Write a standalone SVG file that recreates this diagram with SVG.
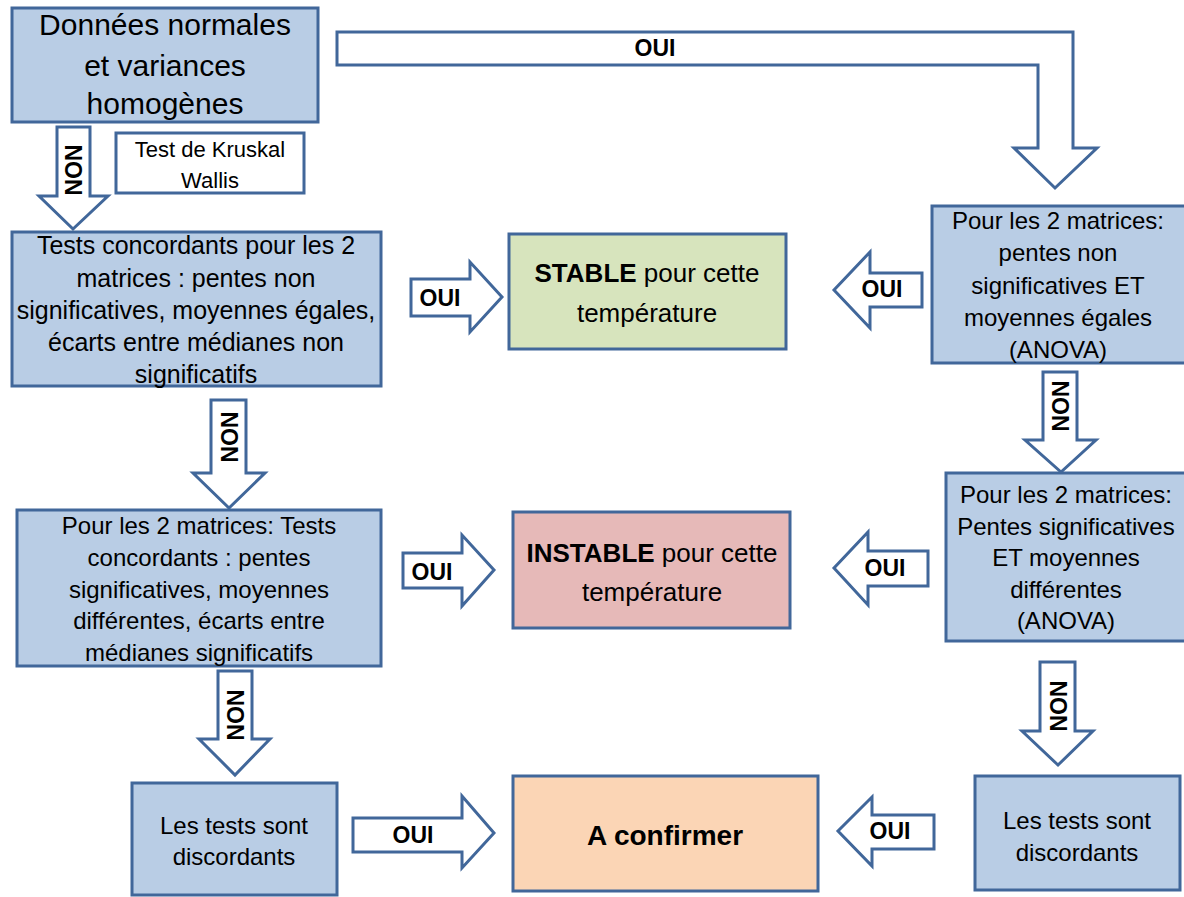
<svg xmlns="http://www.w3.org/2000/svg" width="1184" height="897" viewBox="0 0 1184 897">
<style>
.box{stroke:#41679a;stroke-width:3}
.blue{fill:#b9cde5}
.white{fill:#ffffff}
.green{fill:#d7e4bd}
.red{fill:#e6b9b8}
.orange{fill:#fbd5b5}
.arr{fill:#ffffff;stroke:#41679a;stroke-width:3;stroke-linejoin:miter}
text{font-family:"Liberation Sans",Arial,sans-serif;fill:#000;text-anchor:middle}
.t{font-size:24px}
.t2{font-size:25px}
.big{font-size:30px}
.k{font-size:22px}
.res{font-size:26px}
.conf{font-size:28px;font-weight:bold}
.lab{font-size:23px;font-weight:bold}
.b{font-weight:bold}
</style>
<rect width="1184" height="897" fill="#ffffff"/>
<g id="connectors">
  <path class="arr" d="M337,32 H1073 V148 H1097 L1055,188 L1014,148 H1038 V65 H337 Z"/>
  <text class="lab" x="655" y="56">OUI</text>
  <path class="arr" d="M57,127 H90 V196 H108 L73,229 L39,196 H57 Z"/>
  <text class="lab" transform="translate(73,170) rotate(90)" y="8">NON</text>
  <path class="arr" d="M211,400 H246 V473 H265 L229,508 L193,473 H211 Z"/>
  <text class="lab" transform="translate(229,437) rotate(90)" y="8">NON</text>
  <path class="arr" d="M218,671 H252 V739 H270 L235,775 L199,739 H218 Z"/>
  <text class="lab" transform="translate(235,715) rotate(90)" y="8">NON</text>
  <path class="arr" d="M1043,372 H1077 V440 H1096 L1061,472 L1025,440 H1043 Z"/>
  <text class="lab" transform="translate(1060,406) rotate(90)" y="8">NON</text>
  <path class="arr" d="M1040,662 H1075 V731 H1093 L1058,765 L1022,731 H1040 Z"/>
  <text class="lab" transform="translate(1058,706) rotate(90)" y="8">NON</text>
  <path class="arr" d="M411,279 H470 V262 L502,297 L470,332 V316 H411 Z"/>
  <text class="lab" x="440" y="306">OUI</text>
  <path class="arr" d="M922,273 H870 V252 L834,290 L870,328 V307 H922 Z"/>
  <text class="lab" x="882" y="297">OUI</text>
  <path class="arr" d="M403,553 H462 V535 L494,570 L462,606 V588 H403 Z"/>
  <text class="lab" x="432" y="580">OUI</text>
  <path class="arr" d="M928,551 H868 V532 L834,568 L868,605 V586 H928 Z"/>
  <text class="lab" x="885" y="576">OUI</text>
  <path class="arr" d="M353,818 H462 V796 L494,833 L462,868 V852 H353 Z"/>
  <text class="lab" x="413" y="843">OUI</text>
  <path class="arr" d="M934,815 H872 V797 L838,831 L872,866 V849 H934 Z"/>
  <text class="lab" x="890" y="839">OUI</text>
</g>
<g id="n-donnees">
  <rect class="box blue" x="12" y="8" width="306" height="114"/>
  <text class="big" x="165" y="35">Données normales</text>
  <text class="big" x="165" y="76">et variances</text>
  <text class="big" x="165" y="114">homogènes</text>
</g>
<g id="n-kruskal">
  <rect class="box white" x="116" y="133" width="188" height="60"/>
  <text class="k" x="210" y="157">Test de Kruskal</text>
  <text class="k" x="210" y="188">Wallis</text>
</g>
<g id="n-concordants">
  <rect class="box blue" x="12" y="232" width="369" height="154"/>
  <text class="t2" x="196" y="254">Tests concordants pour les 2</text>
  <text class="t2" x="196" y="287">matrices : pentes non</text>
  <text class="t2" x="196" y="319">significatives, moyennes égales,</text>
  <text class="t2" x="196" y="351">écarts entre médianes non</text>
  <text class="t2" x="196" y="383">significatifs</text>
</g>
<g id="n-stable">
  <rect class="box green" x="509" y="234" width="277" height="115"/>
  <text class="res" x="647" y="282"><tspan class="b">STABLE</tspan> pour cette</text>
  <text class="res" x="647" y="322">température</text>
</g>
<g id="n-anova1">
  <rect class="box blue" x="932" y="206" width="256" height="157"/>
  <text class="t" x="1058" y="229">Pour les 2 matrices:</text>
  <text class="t" x="1058" y="261">pentes non</text>
  <text class="t" x="1058" y="294">significatives ET</text>
  <text class="t" x="1058" y="326">moyennes égales</text>
  <text class="t" x="1058" y="358">(ANOVA)</text>
</g>
<g id="n-tests-signif">
  <rect class="box blue" x="17" y="510" width="364" height="156"/>
  <text class="t" x="199" y="534">Pour les 2 matrices: Tests</text>
  <text class="t" x="199" y="566">concordants : pentes</text>
  <text class="t" x="199" y="598">significatives, moyennes</text>
  <text class="t" x="199" y="629">différentes, écarts entre</text>
  <text class="t" x="199" y="661">médianes significatifs</text>
</g>
<g id="n-instable">
  <rect class="box red" x="513" y="512" width="277" height="116"/>
  <text class="res" x="652" y="562"><tspan class="b">INSTABLE</tspan> pour cette</text>
  <text class="res" x="652" y="601">température</text>
</g>
<g id="n-anova2">
  <rect class="box blue" x="946" y="473" width="242" height="168"/>
  <text class="t" x="1066" y="503">Pour les 2 matrices:</text>
  <text class="t" x="1066" y="535">Pentes significatives</text>
  <text class="t" x="1066" y="566">ET moyennes</text>
  <text class="t" x="1066" y="598">différentes</text>
  <text class="t" x="1066" y="629">(ANOVA)</text>
</g>
<g id="n-discord-left">
  <rect class="box blue" x="132" y="783" width="205" height="112"/>
  <text class="t" x="234" y="834">Les tests sont</text>
  <text class="t" x="234" y="865">discordants</text>
</g>
<g id="n-confirmer">
  <rect class="box orange" x="513" y="776" width="305" height="115"/>
  <text class="conf" x="665" y="845">A confirmer</text>
</g>
<g id="n-discord-right">
  <rect class="box blue" x="975" y="776" width="205" height="114"/>
  <text class="t" x="1077" y="829">Les tests sont</text>
  <text class="t" x="1077" y="861">discordants</text>
</g>
</svg>
